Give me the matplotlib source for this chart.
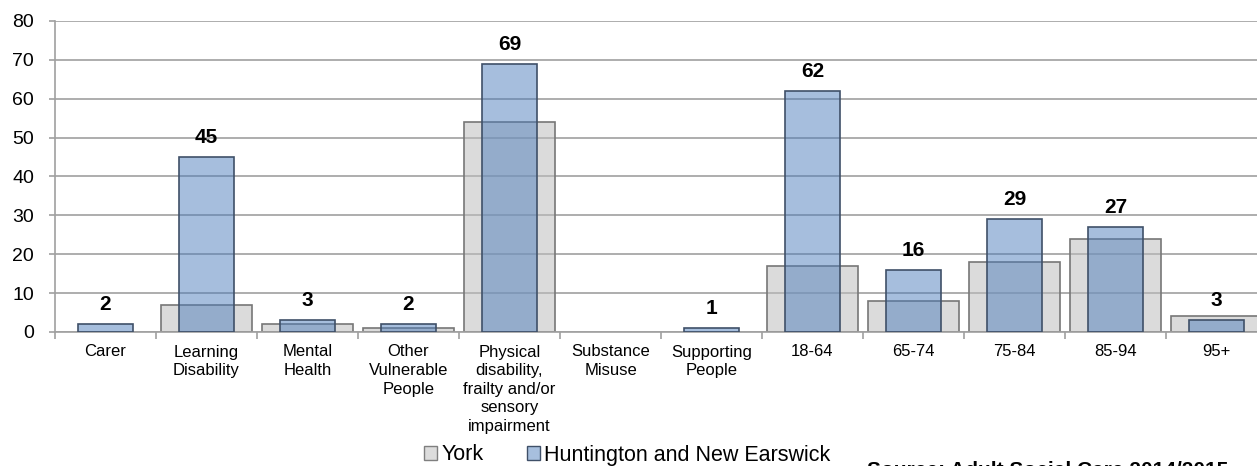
import matplotlib
matplotlib.use("Agg")
import matplotlib.pyplot as plt
from matplotlib.patches import Patch
import numpy as np

categories = ["Carer", "Learning\nDisability", "Mental\nHealth", "Other\nVulnerable\nPeople",
              "Physical\ndisability,\nfrailty and/or\nsensory\nimpairment", "Substance\nMisuse",
              "Supporting\nPeople", "18-64", "65-74", "75-84", "85-94", "95+"]
york = [0, 7, 2, 1, 54, 0, 0, 17, 8, 18, 24, 4]
huntington = [2, 45, 3, 2, 69, 0, 1, 62, 16, 29, 27, 3]
series_names = ["York", "Huntington and New Earswick"]
source_text = "Source: Adult Social Care 2014/2015"

plt.rcParams['font.family'] = ['Liberation Sans', 'DejaVu Sans']

fig = plt.figure(figsize=(12.57, 4.66), dpi=100)
ax = fig.add_axes([55/1257, 134/466, 1212/1257, 311/466])

x = np.arange(len(categories))
grey_face = (190/255, 190/255, 190/255, 0.55)
blue_face = (74/255, 123/255, 187/255, 0.49)

grey_bars = ax.bar(x, york, width=0.91, color=grey_face, edgecolor="#777777", linewidth=1.2, zorder=2)
blue_bars = ax.bar(x, huntington, width=0.55, color=blue_face, edgecolor="#3f5068", linewidth=1.2, zorder=3)
for bars, vals in ((grey_bars, york), (blue_bars, huntington)):
    for b, v in zip(bars, vals):
        if v == 0:
            b.set_linewidth(0)

for xi, v in zip(x, huntington):
    if v > 0:
        ax.annotate(str(v), (xi, v), xytext=(0, 10), textcoords="offset points",
                    ha="center", va="baseline", fontsize=15, fontweight="bold", color="black")

ax.set_xlim(-0.5, len(categories) - 0.5)
ax.set_ylim(0, 80)
ax.set_yticks(np.arange(0, 81, 10))
ax.yaxis.grid(True, color="#a0a0a0", linewidth=1.2, zorder=0)
ax.set_axisbelow(True)

ax.set_xticks(x)
ax.set_xticklabels(categories, fontsize=12, linespacing=1.3)
ax.set_xticks(np.arange(-0.5, len(categories), 1), minor=True)
ax.tick_params(axis="x", which="major", length=0, pad=9)
ax.tick_params(axis="x", which="minor", length=5, color="#a0a0a0", width=1.2)
ax.tick_params(axis="y", length=4, color="#a0a0a0", width=1.2, labelsize=14, pad=11)

for s in ["top", "right"]:
    ax.spines[s].set_visible(False)
for s in ["left", "bottom"]:
    ax.spines[s].set_color("#a0a0a0")
    ax.spines[s].set_linewidth(1.2)

handles = [Patch(facecolor="#dcdcdc", edgecolor="#7f7f7f"),
           Patch(facecolor="#a7bfde", edgecolor="#3f5068")]
fig.legend(handles, series_names, loc="center", bbox_to_anchor=(0.499, 11/466), ncol=2,
           frameon=False, fontsize=15.5, handlelength=0.6, handleheight=0.6,
           handletextpad=0.2, columnspacing=2.0, borderaxespad=0, borderpad=0)

fig.text(867/1257, 1 - 461/466, source_text, fontsize=15, fontweight="bold",
         ha="left", va="top")

fig.savefig("out.png", dpi=100)
